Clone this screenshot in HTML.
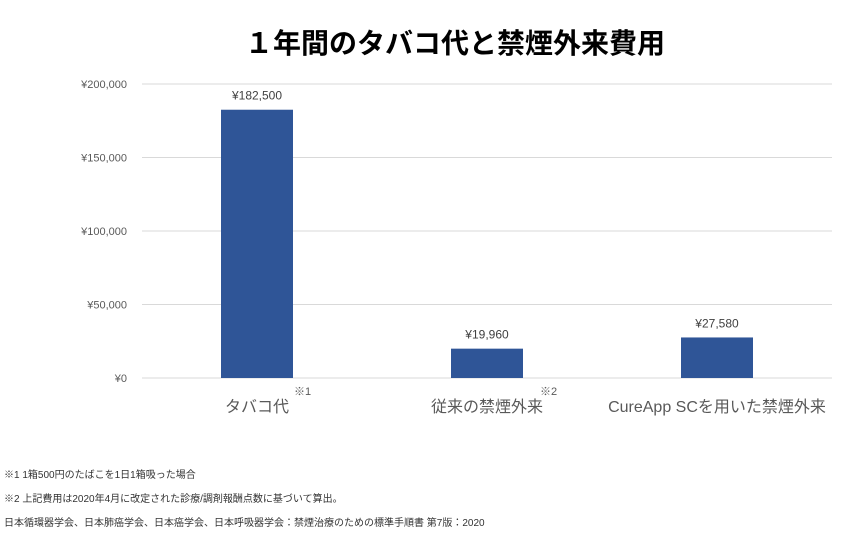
<!DOCTYPE html>
<html><head><meta charset="utf-8"><style>
body{margin:0;background:#fff;width:848px;height:541px;overflow:hidden;font-family:"Liberation Sans","Noto Sans CJK JP",sans-serif}
</style></head><body>
<svg width="848" height="541" id="chart" style="font-family:'Liberation Sans','Noto Sans CJK JP',sans-serif">
<text x="455" y="53" text-anchor="middle" font-size="28" font-weight="bold" fill="#000">１年間のタバコ代と禁煙外来費用</text>
<g id="grid"></g><g id="bars"></g>
<text x="294" y="395" font-size="11" fill="#595959">※1</text>
<text x="540" y="395" font-size="11" fill="#595959">※2</text>
<text x="4" y="478" font-size="10" fill="#333">※1 1箱500円のたばこを1日1箱吸った場合</text>
<text x="4" y="502" font-size="10" fill="#333">※2 上記費用は2020年4月に改定された診療/調剤報酬点数に基づいて算出。</text>
<text x="4" y="526" font-size="10" fill="#333">日本循環器学会、日本肺癌学会、日本癌学会、日本呼吸器学会：禁煙治療のための標準手順書 第7版：2020</text>
</svg>
<script>
const categories=["タバコ代","従来の禁煙外来","CureApp SCを用いた禁煙外来"];
const values=[182500,19960,27580];
const valueLabels=["¥182,500","¥19,960","¥27,580"];
const ticks=[0,50000,100000,150000,200000];
const tickLabels=["¥0","¥50,000","¥100,000","¥150,000","¥200,000"];
const NS="http://www.w3.org/2000/svg";
const x0=142,x1=832,yBase=378,yTop=84,maxV=200000;
const y=v=>yBase-(v/maxV)*(yBase-yTop);
const band=(x1-x0)/categories.length;
const cx=i=>x0+band*(i+0.5);
function mk(t,a,p){const e=document.createElementNS(NS,t);for(const k in a)e.setAttribute(k,a[k]);p.appendChild(e);return e;}
const g=document.getElementById('grid'),b=document.getElementById('bars');
ticks.forEach((t,i)=>{
 const l=mk('line',{x1:x0,x2:x1,y1:y(t),y2:y(t),stroke:'#d9d9d9','stroke-width':1},g);
 
 
 const tx=mk('text',{x:127,y:y(t)+4,'text-anchor':'end','font-size':11,fill:'#595959'},g);
 tx.textContent=tickLabels[i];
 
 
});
values.forEach((v,i)=>{
 const r=mk('rect',{x:cx(i)-36,width:72,y:y(v),height:yBase-y(v),fill:'#2f5597'},b);
 
 
 const t=mk('text',{x:cx(i),y:y(v)-10,'text-anchor':'middle','font-size':12,fill:'#404040'},b);
 t.textContent=valueLabels[i];
 
 
 const c=mk('text',{x:cx(i),y:412,'text-anchor':'middle','font-size':16,fill:'#595959'},b);
 c.textContent=categories[i];
 
 
});
</script>
</body></html>
